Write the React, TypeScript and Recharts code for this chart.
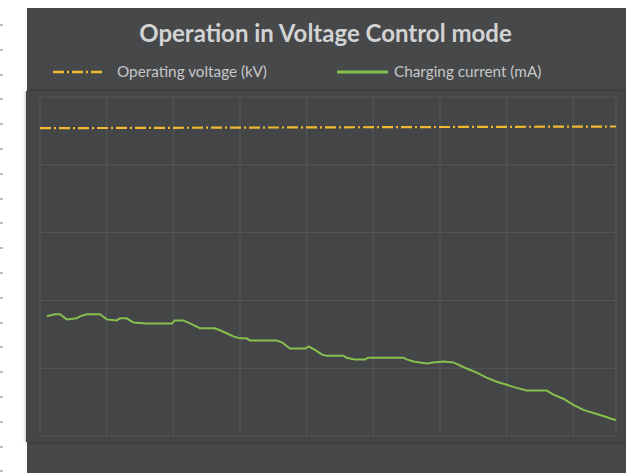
import React from "react";
import { LineChart, Line, XAxis, YAxis, CartesianGrid, Legend } from "recharts";

const xTicks = [0, 10, 20, 30, 40, 50, 60, 70, 80, 86.4];
const yTicks = [0, 20, 40, 60, 80, 100];

const voltageX = [0, 86.4];
const voltageY = [90.8, 91.3];

const currentX = [
  1.0, 2.2, 3.0, 4.0, 5.5, 6.0, 7.0, 9.0, 10.0, 11.5, 12.0, 13.0, 14.0, 16.0, 19.8,
  20.2, 21.5, 22.5, 24.0, 26.2, 27.0, 28.0, 29.0, 30.0, 31.0, 31.5, 35.5, 36.3, 37.5,
  39.8, 40.3, 41.2, 42.3, 43.0, 45.5, 46.0, 47.2, 48.8, 49.2, 54.5, 55.0, 56.0, 58.0,
  59.0, 60.5, 62.0, 63.0, 64.0, 65.5, 67.0, 68.5, 70.0, 71.5, 73.0, 76.0, 77.0, 78.5,
  80.0, 81.5, 83.0, 84.5, 85.8, 86.4,
];
const currentY = [
  35.3, 35.9, 35.9, 34.4, 34.7, 35.3, 35.9, 35.9, 34.4, 34.1, 34.7, 34.7, 33.5, 33.2, 33.2,
  34.1, 34.1, 33.2, 31.8, 31.8, 31.2, 30.3, 29.4, 28.8, 28.8, 28.2, 28.2, 27.6, 25.8,
  25.8, 26.4, 25.5, 24.0, 23.7, 23.7, 23.1, 22.6, 22.6, 23.1, 23.1, 22.6, 22.0, 21.4,
  21.7, 22.0, 21.7, 20.8, 19.9, 18.7, 17.2, 16.0, 15.1, 14.2, 13.4, 13.4, 12.2, 11.0,
  9.2, 7.7, 6.8, 5.9, 5.0, 4.7,
];

const seriesNames = ["Operating voltage (kV)", "Charging current (mA)"];
const seriesColors = ["#f0b92e", "#86c04e"];
const titleText = "Operation in Voltage Control mode";

const voltageData = voltageX.map((x, i) => ({ x, v: voltageY[i] }));
const currentData = currentX.map((x, i) => ({ x, c: currentY[i] }));

const LegendContent = () => (
  <div style={{ position: "relative", width: 560, height: 20, fontFamily: "Lato", fontSize: 15.3, color: "#c6c7c8" }}>
    <svg style={{ position: "absolute", left: 0, top: 0 }} width={52} height={20}>
      <line x1={0} y1={8} x2={50} y2={8} stroke={seriesColors[0]} strokeWidth={2.4} strokeDasharray="11 3 2 3" />
    </svg>
    <div style={{ position: "absolute", left: 64, top: 0, lineHeight: "15px", whiteSpace: "nowrap" }}>{seriesNames[0]}</div>
    <svg style={{ position: "absolute", left: 284, top: 0 }} width={52} height={20}>
      <line x1={0} y1={8} x2={51} y2={8} stroke={seriesColors[1]} strokeWidth={3} />
    </svg>
    <div style={{ position: "absolute", left: 341, top: 0, lineHeight: "15px", whiteSpace: "nowrap" }}>{seriesNames[1]}</div>
  </div>
);

export default function App() {
  const marks = Array.from({ length: 19 }, (_, i) => 24 + i * 24.8);
  return (
    <div style={{ position: "absolute", left: 0, top: 0, width: 626, height: 473, background: "#ffffff", overflow: "hidden" }}>
      {marks.map((y, i) => (
        <div key={i} style={{ position: "absolute", left: 0, top: y, width: 3, height: 2, background: "#bdbdbd" }} />
      ))}
      <div style={{ position: "absolute", left: 27, top: 8, width: 599, height: 465, background: "#47484a" }}>
        <div style={{ position: "absolute", left: -1, top: 83, width: 600, height: 351, background: "#444547", boxShadow: "0 0 4px rgba(0,0,0,0.35)" }} />
        <div
          style={{
            position: "absolute",
            left: 0,
            top: 12.7,
            width: 597,
            textAlign: "center",
            fontFamily: "Lato",
            fontWeight: 700,
            fontSize: 24,
            lineHeight: "24px",
            color: "#d2d3d4",
          }}
        >
          {titleText}
        </div>
        <div style={{ position: "absolute", left: 0, top: 0 }}>
          <LineChart width={599} height={465} margin={{ top: 89, right: 10, bottom: 17, left: 13 }}>
            <XAxis dataKey="x" type="number" domain={[0, 86.4]} ticks={xTicks} hide allowDuplicatedCategory={false} />
            <YAxis type="number" domain={[0, 100]} ticks={yTicks} hide />
            <CartesianGrid stroke="#56595a" strokeWidth={1} />
            <Legend
              content={() => <LegendContent />}
              wrapperStyle={{ position: "absolute", top: 56, left: 26, width: 560, height: 20 }}
            />
            <Line
              data={voltageData}
              dataKey="v"
              name={seriesNames[0]}
              type="linear"
              stroke={seriesColors[0]}
              strokeWidth={2.2}
              strokeDasharray="11 3 2 3"
              dot={false}
              activeDot={false}
              isAnimationActive={false}
            />
            <Line
              data={currentData}
              dataKey="c"
              name={seriesNames[1]}
              type="linear"
              stroke={seriesColors[1]}
              strokeWidth={2}
              dot={false}
              activeDot={false}
              isAnimationActive={false}
            />
          </LineChart>
        </div>
      </div>
    </div>
  );
}
